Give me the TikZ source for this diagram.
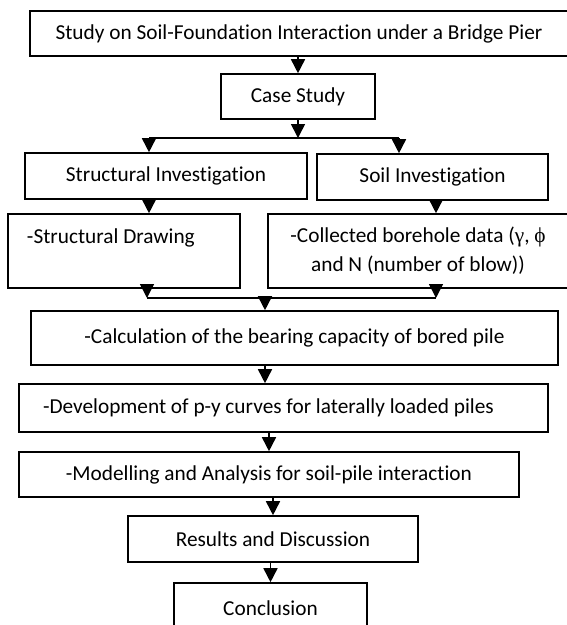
\documentclass[tikz,border=0pt]{standalone}
\usepackage{fontspec}
\setmainfont{Carlito}[Ligatures=NoCommon]
\newfontfamily\grk{Liberation Serif}
\usetikzlibrary{arrows.meta, positioning}

\begin{document}
\begin{tikzpicture}[
  x=1pt, y=-1pt,
  font=\fontsize{21.3}{29}\selectfont,
  box/.style={draw, line width=1.6pt, inner sep=0pt, align=flush center},
  arr/.style={-{Triangle[width=14pt, length=14pt]}, line width=1.6pt},
  link/.style={line width=1.6pt}
]
\useasboundingbox (0,0) rectangle (566,625);
% main boxes
\node[box, minimum width=538, minimum height=45] (title) at (299,33.5)
  {Study on Soil-Foundation Interaction under a Bridge Pier};
\node[box, minimum width=154, minimum height=45] (case) at (298,96.5) {Case Study};
\node[box, minimum width=282, minimum height=46] (struct) at (166,176) {Structural Investigation};
\node[box, minimum width=231, minimum height=46] (soil) at (432.5,177) {Soil Investigation};
\node[box, minimum width=232, minimum height=74, text width=194, align=flush left] (draw) at (124,251)
  {-Structural Drawing\\~};
\node[box, minimum width=300, minimum height=74, text width=290] (coll) at (418,251)
  {-Collected borehole data ({\grk γ}, {\grk ϕ}\\and N (number of blow))};
\node[box, minimum width=527, minimum height=54] (calc) at (294.5,338)
  {-Calculation of the bearing capacity of bored pile};
\node[box, minimum width=529, minimum height=48, text width=481, align=flush left] (dev) at (283.5,408)
  {-Development of p-y curves for laterally loaded piles};
\node[box, minimum width=500, minimum height=45] (model) at (269,474.5)
  {-Modelling and Analysis for soil-pile interaction};
\node[box, minimum width=290, minimum height=46] (res) at (273,539) {Results and Discussion};
\node[box, minimum width=193, minimum height=50] (concl) at (270.5,608) {Conclusion};

% split and join points
\coordinate (sL) at (149,138);
\coordinate (sR) at (399,138);
\coordinate (jL) at (147,298);
\coordinate (jR) at (436,298);
\coordinate (jM) at (265,298);

\draw[arr] (title.south -| case) -- (case.north);
\draw[arr] (case) -- (case |- sL);
\draw[link] (sL) -- (sR);
\draw[arr] (sL) -- (sL |- struct.north);
\draw[arr] (sR) -- (sR |- soil.north);
\draw[arr] (struct.south -| sL) -- (sL |- draw.north);
\draw[arr] (soil.south -| jR) -- (jR |- coll.north);
\draw[arr] (draw.south -| jL) -- (jL);
\draw[arr] (coll.south -| jR) -- (jR);
\draw[link] (jL) -- (jR);
\draw[arr] (jM) -- (jM |- calc.north);
\draw[arr] (calc.south -| jM) -- (jM |- dev.north);
\draw[arr] (dev.south -| model) -- (model.north);
\draw[arr] (model.south -| res) -- (res.north);
\draw[arr] (res.south -| concl) -- (concl.north);
\end{tikzpicture}
\end{document}
